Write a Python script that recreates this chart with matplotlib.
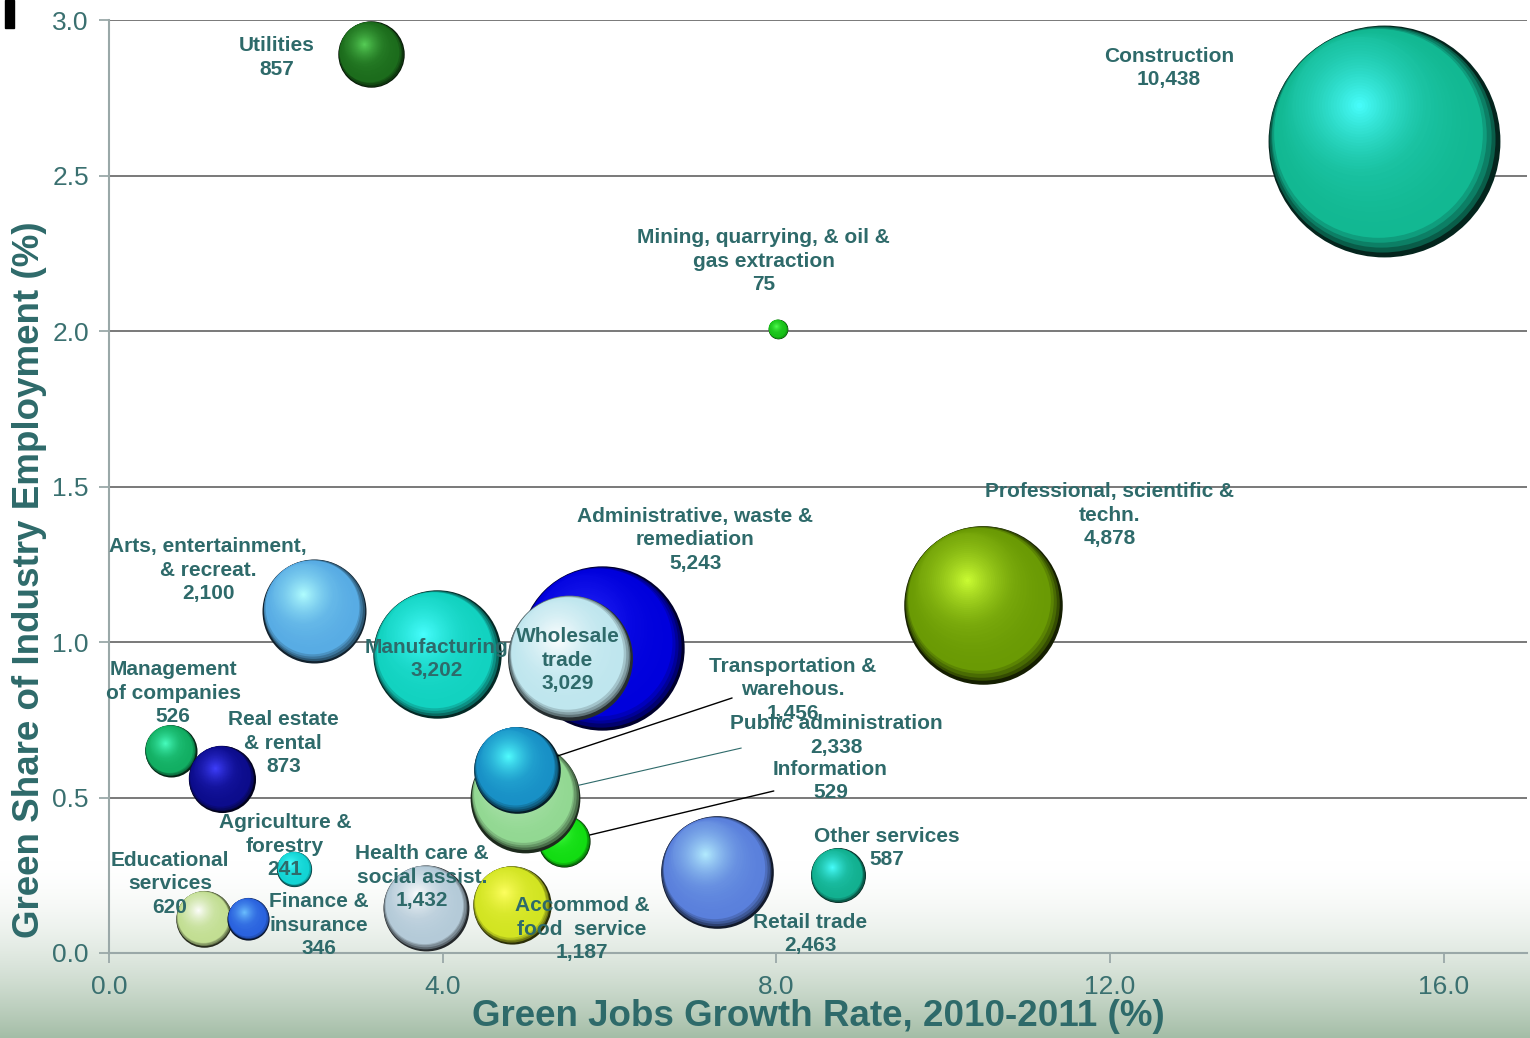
import numpy as np
import matplotlib
matplotlib.use("Agg")
import matplotlib.pyplot as plt
from matplotlib.transforms import ScaledTranslation
from matplotlib.colors import to_rgb
from matplotlib.patches import Rectangle

plt.rcParams['font.family'] = ['Liberation Sans', 'DejaVu Sans']

# drawing order = back to front
names = ["Construction", "Professional, scientific &\ntechn.", "Administrative, waste &\nremediation",
         "Wholesale\ntrade", "Manufacturing", "Arts, entertainment,\n& recreat.", "Retail trade",
         "Information", "Public administration", "Transportation &\nwarehous.",
         "Health care &\nsocial assist.", "Accommod &\nfood  service", "Utilities",
         "Management\nof companies", "Real estate\n& rental", "Educational\nservices",
         "Finance &\ninsurance", "Other services", "Agriculture &\nforestry",
         "Mining, quarrying, & oil &\ngas extraction"]
jobs = [10438, 4878, 5243, 3029, 3202, 2100, 2463, 529, 2338, 1456,
        1432, 1187, 857, 526, 873, 620, 346, 587, 241, 75]
growth = [15.28, 10.48, 5.91, 5.53, 3.93, 2.46, 7.29, 5.46, 4.99, 4.89,
          3.80, 4.83, 3.14, 0.74, 1.35, 1.14, 1.67, 8.74, 2.22, 8.02]
share = [2.61, 1.12, 0.98, 0.95, 0.96, 1.10, 0.26, 0.36, 0.50, 0.59,
         0.145, 0.155, 2.89, 0.65, 0.56, 0.11, 0.11, 0.25, 0.27, 2.006]
colors = ["#12b892", "#6a9a04", "#0000dc", "#bfe6ee", "#12d2c0", "#58ace4", "#5a80dc",
          "#12dc12", "#92d892", "#1890c6", "#b4cad8", "#d2e422", "#1c6c1c",
          "#12ae62", "#0c0c8c", "#c2de92", "#2a62de", "#12b090", "#12d4d4", "#18c018"]

# label text positions (data units)
label_x = [12.71, 12.0, 7.03, 5.50, 3.93, 1.19, 8.41, 8.65, 8.72, 8.20,
           3.75, 5.67, 2.01, 0.77, 2.09, 0.73, 2.52, 9.32, 2.11, 7.85]
label_y = [2.845, 1.408, 1.328, 0.942, 0.945, 1.231, 0.061, 0.553, 0.70, 0.846,
           0.244, 0.077, 2.88, 0.836, 0.675, 0.222, 0.09, 0.338, 0.344, 2.225]

# leader lines: (bubble name, label end)
leaders = {"Transportation &\nwarehous.": ((7.47, 0.820), "black", 1.0),
           "Public administration": ((7.58, 0.659), "#2e6a6a", 0.8),
           "Information": ((7.97, 0.521), "black", 1.0)}

txt = "#2e6a6a"
axis_gray = "#9aa8a8"
BUBBLE_SCALE = 2.67  # marker area (pt^2) per job

fig = plt.figure(figsize=(15.3, 10.38), dpi=100)

# slide background with a greenish gradient at the bottom
bg = fig.add_axes([0, 0, 1, 1], zorder=-10)
bg.axis('off')
rows = 1038
grad = np.ones((rows, 1, 3))
bottom = np.array([0.64, 0.74, 0.65])
for r in range(rows):
    if r > 860:
        t = ((r - 860) / (rows - 860)) ** 1.7
        grad[r, 0] = (1 - t) * np.ones(3) + t * bottom
bg.imshow(grad, aspect='auto', extent=[0, 1, 0, 1])
fig.patches.append(Rectangle((5 / 1530, 1 - 28 / 1038), 9 / 1530, 28 / 1038,
                             transform=fig.transFigure, color='black'))

ax = fig.add_axes([109 / 1530, 85 / 1038, 1418 / 1530, 933 / 1038])
ax.set_facecolor('none')
ax.set_xlim(0, 17)
ax.set_ylim(0, 3)

light_dir = np.array([-0.55, 0.835])


def sphere(x, y, r_pt, color):
    base = np.array(to_rgb(color))
    dark = base * 0.2
    light = np.clip(base * 1.5 + 0.18, 0, 1)
    n = 40
    for k in range(n):
        s = 1 - k / n
        if s > 0.9:
            c = dark + (base - dark) * ((1 - s) / 0.1) ** 0.7
        else:
            u = (0.9 - s) / 0.9
            c = base + (light - base) * u ** 1.8
        off = min((1 - s) * 0.9, 0.38) * r_pt
        dx, dy = light_dir * off
        tr = ax.transData + ScaledTranslation(dx / 72, dy / 72, fig.dpi_scale_trans)
        ax.scatter([x], [y], s=(2 * s * r_pt) ** 2, color=[c], linewidths=0,
                   transform=tr, zorder=2)


for i in range(len(names)):
    r_pt = np.sqrt(BUBBLE_SCALE * jobs[i]) / 2
    sphere(growth[i], share[i], r_pt, colors[i])
    ax.text(label_x[i], label_y[i], f"{names[i]}\n{jobs[i]:,}", ha='center', va='center',
            fontsize=15, fontweight='bold', color=txt, zorder=10, linespacing=1.3)
    if names[i] in leaders:
        end, lc, lw = leaders[names[i]]
        ax.annotate('', xy=(growth[i], share[i]), xytext=end,
                    arrowprops=dict(arrowstyle='-', color=lc, lw=lw,
                                    shrinkA=0, shrinkB=r_pt), zorder=9)

ax.set_xticks([0, 4, 8, 12, 16])
ax.set_xticklabels(['0.0', '4.0', '8.0', '12.0', '16.0'])
ax.set_yticks([0, 0.5, 1.0, 1.5, 2.0, 2.5, 3.0])
ax.set_yticklabels(['0.0', '0.5', '1.0', '1.5', '2.0', '2.5', '3.0'])
ax.tick_params(length=7, width=1.3, color=axis_gray, labelsize=19, labelcolor="#3a7070")
ax.tick_params(axis='x', pad=9)
ax.tick_params(axis='y', pad=7.5)
ax.yaxis.grid(True, color='#6e6e6e', lw=1.3)
ax.set_axisbelow(True)
for sp in ['top', 'right']:
    ax.spines[sp].set_visible(False)
for sp in ['left', 'bottom']:
    ax.spines[sp].set_color(axis_gray)
    ax.spines[sp].set_linewidth(1.5)

ax.set_xlabel("Green Jobs Growth Rate, 2010-2011 (%)", fontsize=26.5, fontweight='bold',
              color=txt, labelpad=0)
ax.set_ylabel("Green Share of Industry Employment (%)", fontsize=26.5, fontweight='bold',
              color=txt, labelpad=3)
ax.yaxis.set_label_coords(-0.044, 0.40)

fig.savefig("out.png", dpi=100)
